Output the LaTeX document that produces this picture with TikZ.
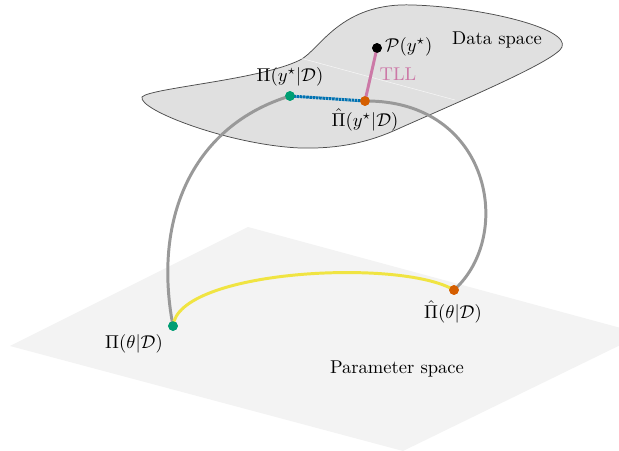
\documentclass[tikz,border=0pt]{standalone}
\usepackage{amsmath}
\definecolor{okgreen}{HTML}{009E73}
\definecolor{okorange}{HTML}{D55E00}
\definecolor{okblue}{HTML}{0072B2}
\definecolor{okpink}{HTML}{CC79A7}
\definecolor{okyellow}{HTML}{F0E442}
\definecolor{curvegray}{HTML}{999999}
\definecolor{planegray}{HTML}{F3F3F3}
\definecolor{blobgray}{HTML}{E0E0E0}
\begin{document}
\begin{tikzpicture}[x=0.539pt,y=-0.539pt,
  dot/.style={circle,inner sep=0pt,minimum size=5.2pt},
  link/.style={curvegray,line width=1.6pt},
  lbl/.style={inner sep=1pt,font=\normalsize}]
\useasboundingbox (0,0) rectangle (619,451);
\clip (0,0) rectangle (619,451);
% parameter plane
\fill[planegray] (10,346) -- (248,227) -- (643,334) -- (403,451) -- cycle;
% data space blob
\draw[fill=blobgray,draw=black!70,line width=0.4pt]
  (142,97) .. controls (150,88) and (260,80) .. (300,60)
  .. controls (320,50) and (340,2) .. (413,5)
  .. controls (480,7) and (570,28) .. (562,47)
  .. controls (557,60) and (470,97) .. (400,128)
  .. controls (370,142) and (340,149) .. (300,148)
  .. controls (230,145) and (138,110) .. (142,97) -- cycle;
\draw[white,opacity=0.7,line width=0.3pt] (300,58) -- (455,100);
% dots
\node[dot,fill=okgreen] (tg) at (173,326) {};
\node[dot,fill=okorange] (to) at (454,290) {};
\node[dot,fill=okgreen] (yg) at (290,96) {};
\node[dot,fill=okorange] (yo) at (365,101) {};
\node[dot,fill=black] (py) at (377,48) {};
% connectors
\draw[link] (tg.center) .. controls (152,215) and (195,125) .. (yg.center);
\draw[link] (yo.center) .. controls (490,100) and (515,235) .. (to.center);
\draw[okyellow,line width=1.6pt] (tg.center) .. controls (178,270) and (400,258) .. (to.center);
\draw[okblue,line width=1.6pt,dash pattern=on 1.4pt off 0.35pt] (yg.center) -- (yo.center);
\draw[okpink,line width=1.6pt] (yo.center) -- (py.center);
% redraw dots on top
\node[dot,fill=okgreen] at (tg) {};
\node[dot,fill=okorange] at (to) {};
\node[dot,fill=okgreen] at (yg) {};
\node[dot,fill=okorange] at (yo) {};
\node[dot,fill=black] at (py) {};
% labels
\node[lbl] (ltg) at (134,344) {$\Pi(\theta|\mathcal{D})$};
\node[lbl] (lto) at (453,312) {$\hat{\Pi}(\theta|\mathcal{D})$};
\node[lbl] (lyg) at (290,77) {$\Pi(y^{\star}|\mathcal{D})$};
\node[lbl] (lyo) at (365,120) {$\hat{\Pi}(y^{\star}|\mathcal{D})$};
\node[lbl,anchor=west] (lpy) at (383,47) {$\mathcal{P}(y^{\star})$};
\node[lbl,text=okpink] (ltll) at (398,74) {TLL};
\node[lbl] (lds) at (497,40) {Data space};
\node[lbl] (lps) at (397,369) {Parameter space};
\end{tikzpicture}
\end{document}
